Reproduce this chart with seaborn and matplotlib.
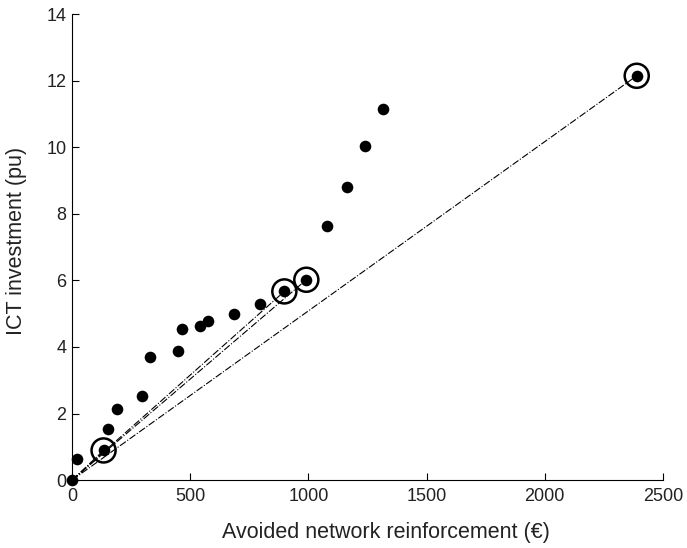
import pandas as pd
import matplotlib.pyplot as plt
import seaborn as sns

# Datos
reinforcement = [0, 19, 133, 153, 188, 295, 328, 449, 466, 542, 573, 686, 793, 898, 991, 1079, 1162, 1240, 1315, 2389]
ict_investment = [0, 0.62, 0.89, 1.53, 2.13, 2.52, 3.70, 3.89, 4.53, 4.63, 4.79, 5.00, 5.30, 5.67, 6.02, 7.64, 8.81, 10.04, 11.16, 12.15]

# Puntos destacados (frontera)
front_x = [133, 898, 991, 2389]
front_y = [0.89, 5.67, 6.02, 12.15]

df = pd.DataFrame({'x': reinforcement, 'y': ict_investment})
front_df = pd.DataFrame({'x': front_x, 'y': front_y})

sns.set_style('white')
plt.rcParams['font.family'] = ['Liberation Sans', 'DejaVu Sans']

fig = plt.figure(figsize=(6.87, 5.48), dpi=100)
ax = fig.add_axes([0.105, 0.124, 0.86, 0.85])

# Lineas desde el origen hasta cada punto destacado
for fx, fy in zip(front_x, front_y):
    ax.plot([0, fx], [0, fy], color='black', linestyle='-.', linewidth=0.8, zorder=1)

sns.scatterplot(data=df, x='x', y='y', ax=ax, color='black', s=70, edgecolor='black',
                linewidth=0, zorder=3, clip_on=False)
sns.scatterplot(data=front_df, x='x', y='y', ax=ax, marker='o', s=300, facecolor='none',
                edgecolor='black', linewidth=1.8, zorder=4, clip_on=False)

ax.set_xlim(0, 2500)
ax.set_ylim(0, 14)
ax.set_xticks(range(0, 2501, 500))
ax.set_yticks(range(0, 15, 2))
ax.tick_params(direction='in', length=5, width=0.8, labelsize=13,
               bottom=True, left=True, colors='black', labelcolor='#222222')
ax.tick_params(axis='x', pad=6)
ax.tick_params(axis='y', pad=4)
for side in ['top', 'right']:
    ax.spines[side].set_visible(False)
for side in ['left', 'bottom']:
    ax.spines[side].set_color('black')
    ax.spines[side].set_linewidth(0.8)

ax.set_xlabel('Avoided network reinforcement (€)', fontsize=15.5, labelpad=12, color='#222222')
ax.set_ylabel('ICT investment (pu)', fontsize=15.5, labelpad=14, color='#222222')
ax.xaxis.label.set_x(0.531)
ax.yaxis.label.set_y(0.513)

fig.savefig('out.png', dpi=100)
